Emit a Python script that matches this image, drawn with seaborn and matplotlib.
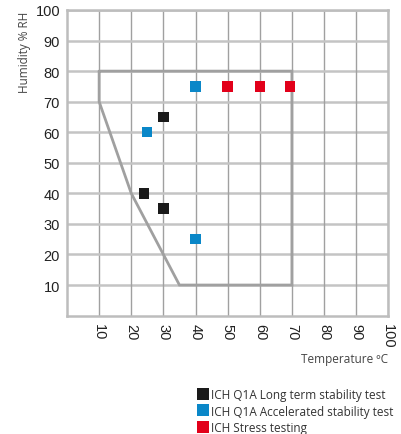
import matplotlib
matplotlib.use("Agg")
import matplotlib.pyplot as plt
import seaborn as sns
import pandas as pd

# Data
series_names = ["ICH Q1A Long term stability test",
                "ICH Q1A Accelerated stability test",
                "ICH Stress testing"]
long_term_temp = [24, 30, 30]
long_term_rh = [40, 65, 35]
accel_temp = [25, 40, 40]
accel_rh = [60, 75, 25]
stress_temp = [50, 60, 69.5]
stress_rh = [75, 75, 75]
zone_temp = [10, 70, 70, 35, 20, 10, 10]
zone_rh = [80, 80, 10, 10, 40, 70, 80]
tick_values = [10, 20, 30, 40, 50, 60, 70, 80, 90, 100]
colors = ["#1a1a1a", "#0a87c8", "#e2001a"]

df = pd.DataFrame({
    "Temperature": long_term_temp + accel_temp + stress_temp,
    "Humidity": long_term_rh + accel_rh + stress_rh,
    "Series": [series_names[0]] * len(long_term_temp)
              + [series_names[1]] * len(accel_temp)
              + [series_names[2]] * len(stress_temp),
})
zone = pd.DataFrame({"Temperature": zone_temp, "Humidity": zone_rh})

sns.set_style("white")
plt.rcParams["font.family"] = ["Liberation Sans", "DejaVu Sans"]

fig = plt.figure(figsize=(4.02, 4.35), dpi=100)
ax = fig.add_axes([67 / 402, 1 - 316.6 / 435, (388.3 - 67) / 402, (316.6 - 11) / 435])

ax.set_xlim(0, 100)
ax.set_ylim(0, 100)
ax.set_xticks(tick_values)
ax.set_yticks(tick_values)
for v in tick_values:
    ax.axvline(v, color="#a0a0a0", lw=1.0, zorder=0)
    ax.axhline(v, color="#c4c4c4", lw=1.8, zorder=0)

ax.plot(zone["Temperature"], zone["Humidity"], color="#a0a0a0", lw=2.0, zorder=1,
        solid_joinstyle="miter")

sns.scatterplot(data=df, x="Temperature", y="Humidity", hue="Series",
                hue_order=series_names, palette=colors, marker="s", s=55,
                linewidth=0, ax=ax, zorder=3)

for sp in ax.spines.values():
    sp.set_color("#bdbdbd")
    sp.set_linewidth(1.8)

ax.tick_params(axis="both", length=0, labelsize=10.5, colors="#222222")
ax.tick_params(axis="x", pad=5)
ax.tick_params(axis="y", pad=5)
for lab in ax.get_xticklabels():
    lab.set_rotation(-90)
    lab.set_va("top")
    lab.set_ha("center")

ax.set_xlabel("")
ax.set_ylabel("")
fig.text(25 / 402, 1 - 12 / 435, "Humidity % RH", rotation=90, ha="center", va="top",
         fontsize=8.5, color="#444444", family=["Open Sans", "DejaVu Sans"])
fig.text(388 / 402, 1 - 360 / 435, "Temperature ºC", ha="right", va="center",
         fontsize=8.5, color="#444444", family=["Open Sans", "DejaVu Sans"])

sns.move_legend(ax, loc="upper left", bbox_to_anchor=(197 / 402, 1 - 389 / 435),
                bbox_transform=fig.transFigure, frameon=False, title=None,
                handletextpad=0.2, labelspacing=0.3,
                borderaxespad=0, borderpad=0, handlelength=1.0,
                prop={"family": ["Open Sans", "DejaVu Sans"], "size": 8.5})
leg = ax.get_legend()
for t in leg.get_texts():
    t.set_color("#333333")
for h in leg.legend_handles:
    if hasattr(h, "set_markersize"):
        h.set_markersize(9)
    if hasattr(h, "set_sizes"):
        h.set_sizes([65])

fig.savefig("out.png", dpi=100)
